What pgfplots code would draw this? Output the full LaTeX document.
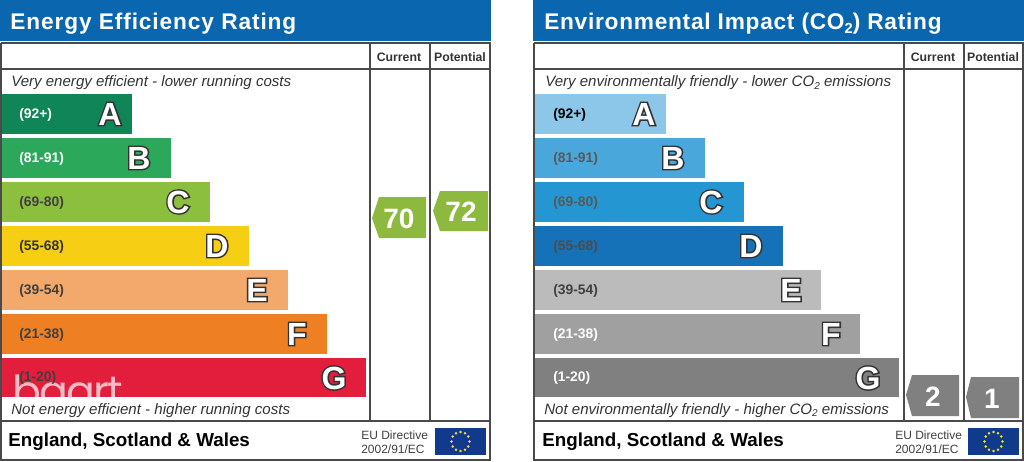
\documentclass[border=0pt]{standalone}
\usepackage{pgfplots}
\pgfplotsset{compat=1.18}
\usepackage{fontspec}
\setmainfont{Liberation Sans}
\newfontfamily\wmfont{Poppins}
\newcommand{\fs}[1]{\fontsize{#1}{#1}\selectfont}
\newcommand{\outl}[1]{\rlap{\special{pdf:code 2 Tr 2.2 w 0.2 0.2 0.2 RG}#1\special{pdf:code 0 Tr 0 w}}#1}
\definecolor{band}{HTML}{0B66B0}
\definecolor{rule}{HTML}{4A4A4A}
\definecolor{ptA}{HTML}{8DB93E}
\definecolor{ptB}{HTML}{808080}
\definecolor{flag}{HTML}{123A8C}
\definecolor{flagstar}{HTML}{E8DC3C}
\definecolor{la}{HTML}{0F8558}\definecolor{lb}{HTML}{2CA85A}\definecolor{lc}{HTML}{8DBF3F}
\definecolor{ld}{HTML}{F6CF14}\definecolor{le}{HTML}{F3A96B}\definecolor{lf}{HTML}{EE7F22}\definecolor{lg}{HTML}{E31D3C}
\definecolor{ra}{HTML}{8CC6E8}\definecolor{rb}{HTML}{4AA7DC}\definecolor{rc}{HTML}{2497D2}
\definecolor{rd}{HTML}{1672B8}\definecolor{re}{HTML}{BBBBBB}\definecolor{rf}{HTML}{A0A0A0}\definecolor{rg}{HTML}{808080}
\pgfplotsset{panel/.style={
  scale only axis, hide axis, clip=false,
  width=768pt, height=345.75pt,
  xmin=0, xmax=1024, ymin=0, ymax=461, y dir=reverse,
}}
\pgfplotsset{base/.style={fill=#1, draw=none, forget plot}}
\newcommand{\frameline}[1]{\addplot[rule, line width=1.1pt, forget plot] coordinates {#1};}
% text helpers: x, y (baseline), colour, content
\newcommand{\tl}[4]{\node[anchor=base west, text=#3, inner sep=0] at (axis cs:#1,#2) {#4};}
\newcommand{\tc}[4]{\node[anchor=base, text=#3, inner sep=0] at (axis cs:#1,#2) {#4};}
\newcommand{\rng}[4]{\tl{#1}{#2}{#3}{\fs{10.4pt}\bfseries #4}}
\newcommand{\grade}[3]{\tc{#1}{#2}{white}{\fs{24pt}\bfseries\outl{#3}}}
\newcommand{\score}[3]{\tc{#1}{#2}{white}{\fs{21pt}\bfseries #3}}
\begin{document}
\begin{tikzpicture}
\begin{axis}[panel]
\addplot[draw=none, forget plot] coordinates {(0,0) (1024,461)};
% --- band
\addplot[base=band] coordinates {(0,0) (491,0) (491,41) (0,41)} -- cycle;
\addplot[base=band] coordinates {(533,0) (1024,0) (1024,41) (533,41)} -- cycle;
% --- left bars
\addplot[base=la] coordinates {(2,94) (132,94) (132,134) (2,134)} -- cycle;
\addplot[base=lb] coordinates {(2,138) (171,138) (171,178) (2,178)} -- cycle;
\addplot[base=lc] coordinates {(2,182) (210,182) (210,222) (2,222)} -- cycle;
\addplot[base=ld] coordinates {(2,226) (249,226) (249,266) (2,266)} -- cycle;
\addplot[base=le] coordinates {(2,270) (288,270) (288,310) (2,310)} -- cycle;
\addplot[base=lf] coordinates {(2,314) (327,314) (327,354) (2,354)} -- cycle;
\addplot[base=lg] coordinates {(2,358) (366,358) (366,397) (2,397)} -- cycle;
% --- right bars
\addplot[base=ra] coordinates {(535,94) (666,94) (666,134) (535,134)} -- cycle;
\addplot[base=rb] coordinates {(535,138) (705,138) (705,178) (535,178)} -- cycle;
\addplot[base=rc] coordinates {(535,182) (744,182) (744,222) (535,222)} -- cycle;
\addplot[base=rd] coordinates {(535,226) (783,226) (783,266) (535,266)} -- cycle;
\addplot[base=re] coordinates {(535,270) (821,270) (821,310) (535,310)} -- cycle;
\addplot[base=rf] coordinates {(535,314) (860,314) (860,354) (535,354)} -- cycle;
\addplot[base=rg] coordinates {(535,358) (899,358) (899,397) (535,397)} -- cycle;
% --- pointers
\addplot[base=ptA] coordinates {(372,218) (379,197) (426,197) (426,238) (379,238)} -- cycle;
\addplot[base=ptA] coordinates {(433,211) (440,191) (488,191) (488,231) (440,231)} -- cycle;
\addplot[base=ptB] coordinates {(906,395) (912,375) (959,375) (959,416) (912,416)} -- cycle;
\addplot[base=ptB] coordinates {(966,397) (971,377) (1019,377) (1019,418) (971,418)} -- cycle;
% --- flags
\addplot[base=flag] coordinates {(435,428) (486,428) (486,455) (435,455)} -- cycle;
\addplot[base=flag] coordinates {(968,428) (1019,428) (1019,455) (968,455)} -- cycle;
\addplot[only marks, mark=*, mark size=0.75pt, flagstar, forget plot] coordinates {
 (460.5,432)(465,433.3)(468.3,436.5)(469.5,441.5)(468.3,446.5)(465,449.7)(460.5,451)(456,449.7)(452.7,446.5)(451.5,441.5)(452.7,436.5)(456,433.3)};
\addplot[only marks, mark=*, mark size=0.75pt, flagstar, forget plot] coordinates {
 (993.5,432)(998,433.3)(1001.3,436.5)(1002.5,441.5)(1001.3,446.5)(998,449.7)(993.5,451)(989,449.7)(985.7,446.5)(984.5,441.5)(985.7,436.5)(989,433.3)};
% --- frames
\frameline{(1,43) (1,460) (490,460) (490,43) (1,43)}
\frameline{(1,69) (490,69)}
\frameline{(1,421) (490,421)}
\frameline{(370,43) (370,421)}
\frameline{(430,43) (430,421)}
\frameline{(534,43) (534,460) (1023,460) (1023,43) (534,43)}
\frameline{(534,69) (1023,69)}
\frameline{(534,421) (1023,421)}
\frameline{(904,43) (904,421)}
\frameline{(964,43) (964,421)}
% --- titles
\tl{10}{29}{white}{\fs{17pt}\bfseries\addfontfeature{LetterSpace=4}Energy Efficiency Rating}
\tl{544}{29}{white}{\fs{17pt}\bfseries\addfontfeature{LetterSpace=3.3}Environmental Impact (CO\raisebox{-3pt}{\fs{11pt}2}) Rating}
% --- headers
\tc{399}{61}{black!80}{\fs{9.2pt}\bfseries Current}
\tc{460}{61}{black!80}{\fs{9.2pt}\bfseries Potential}
\tc{933}{61}{black!80}{\fs{9.2pt}\bfseries Current}
\tc{993}{61}{black!80}{\fs{9.2pt}\bfseries Potential}
% --- captions
\tl{11}{86.5}{black!80}{\fs{11.3pt}\itshape Very energy efficient - lower running costs}
\tl{11}{414}{black!80}{\fs{11.3pt}\itshape Not energy efficient - higher running costs}
\tl{545}{86.5}{black!80}{\fs{11.3pt}\itshape Very environmentally friendly - lower CO\raisebox{-2pt}{\fs{7.5pt}2} emissions}
\tl{544}{414}{black!80}{\fs{11.3pt}\itshape Not environmentally friendly - higher CO\raisebox{-2pt}{\fs{7.5pt}2} emissions}
% --- ranges
\rng{19}{118}{white}{(92+)}
\rng{19}{162}{white}{(81-91)}
\rng{19}{206}{black!75}{(69-80)}
\rng{19}{250}{black!80}{(55-68)}
\rng{19}{294}{black!75}{(39-54)}
\rng{19}{338}{black!75}{(21-38)}
\rng{553}{118}{black}{(92+)}
\rng{553}{162}{black!65}{(81-91)}
\rng{553}{206}{black!65}{(69-80)}
\rng{553}{250}{black!70}{(55-68)}
\rng{553}{294}{black!75}{(39-54)}
\rng{553}{338}{white}{(21-38)}
\rng{553}{381}{white}{(1-20)}
% --- letters
\grade{110}{125}{A}
\grade{139}{169}{B}
\grade{178}{213}{C}
\grade{217}{257}{D}
\grade{257}{301}{E}
\grade{297}{345}{F}
\grade{334}{389}{G}
\grade{644}{125}{A}
\grade{673}{169}{B}
\grade{711}{213}{C}
\grade{751}{257}{D}
\grade{791}{301}{E}
\grade{831}{345}{F}
\grade{868}{389}{G}
% --- scores
\score{399}{228}{70}
\score{461}{221}{72}
\score{933}{406}{2}
\score{992}{408}{1}
% --- footers
\tl{8}{446}{black}{\fs{14.1pt}\bfseries England, Scotland \& Wales}
\tl{542}{446}{black}{\fs{14.1pt}\bfseries England, Scotland \& Wales}
\tl{361}{439}{black!75}{\fs{9pt}EU Directive}
\tl{361}{453}{black!75}{\fs{9pt}2002/91/EC}
\tl{895}{439}{black!75}{\fs{9pt}EU Directive}
\tl{895}{453}{black!75}{\fs{9pt}2002/91/EC}
% --- watermark, then the label that sits above it in the reference
\node[anchor=base west, white, opacity=0.7, inner sep=0] at (axis cs:12,406) {\fs{32pt}\wmfont\addfontfeature{LetterSpace=-4}baart};
\rng{19}{381}{black!75}{(1-20)}
\end{axis}
\end{tikzpicture}
\end{document}
